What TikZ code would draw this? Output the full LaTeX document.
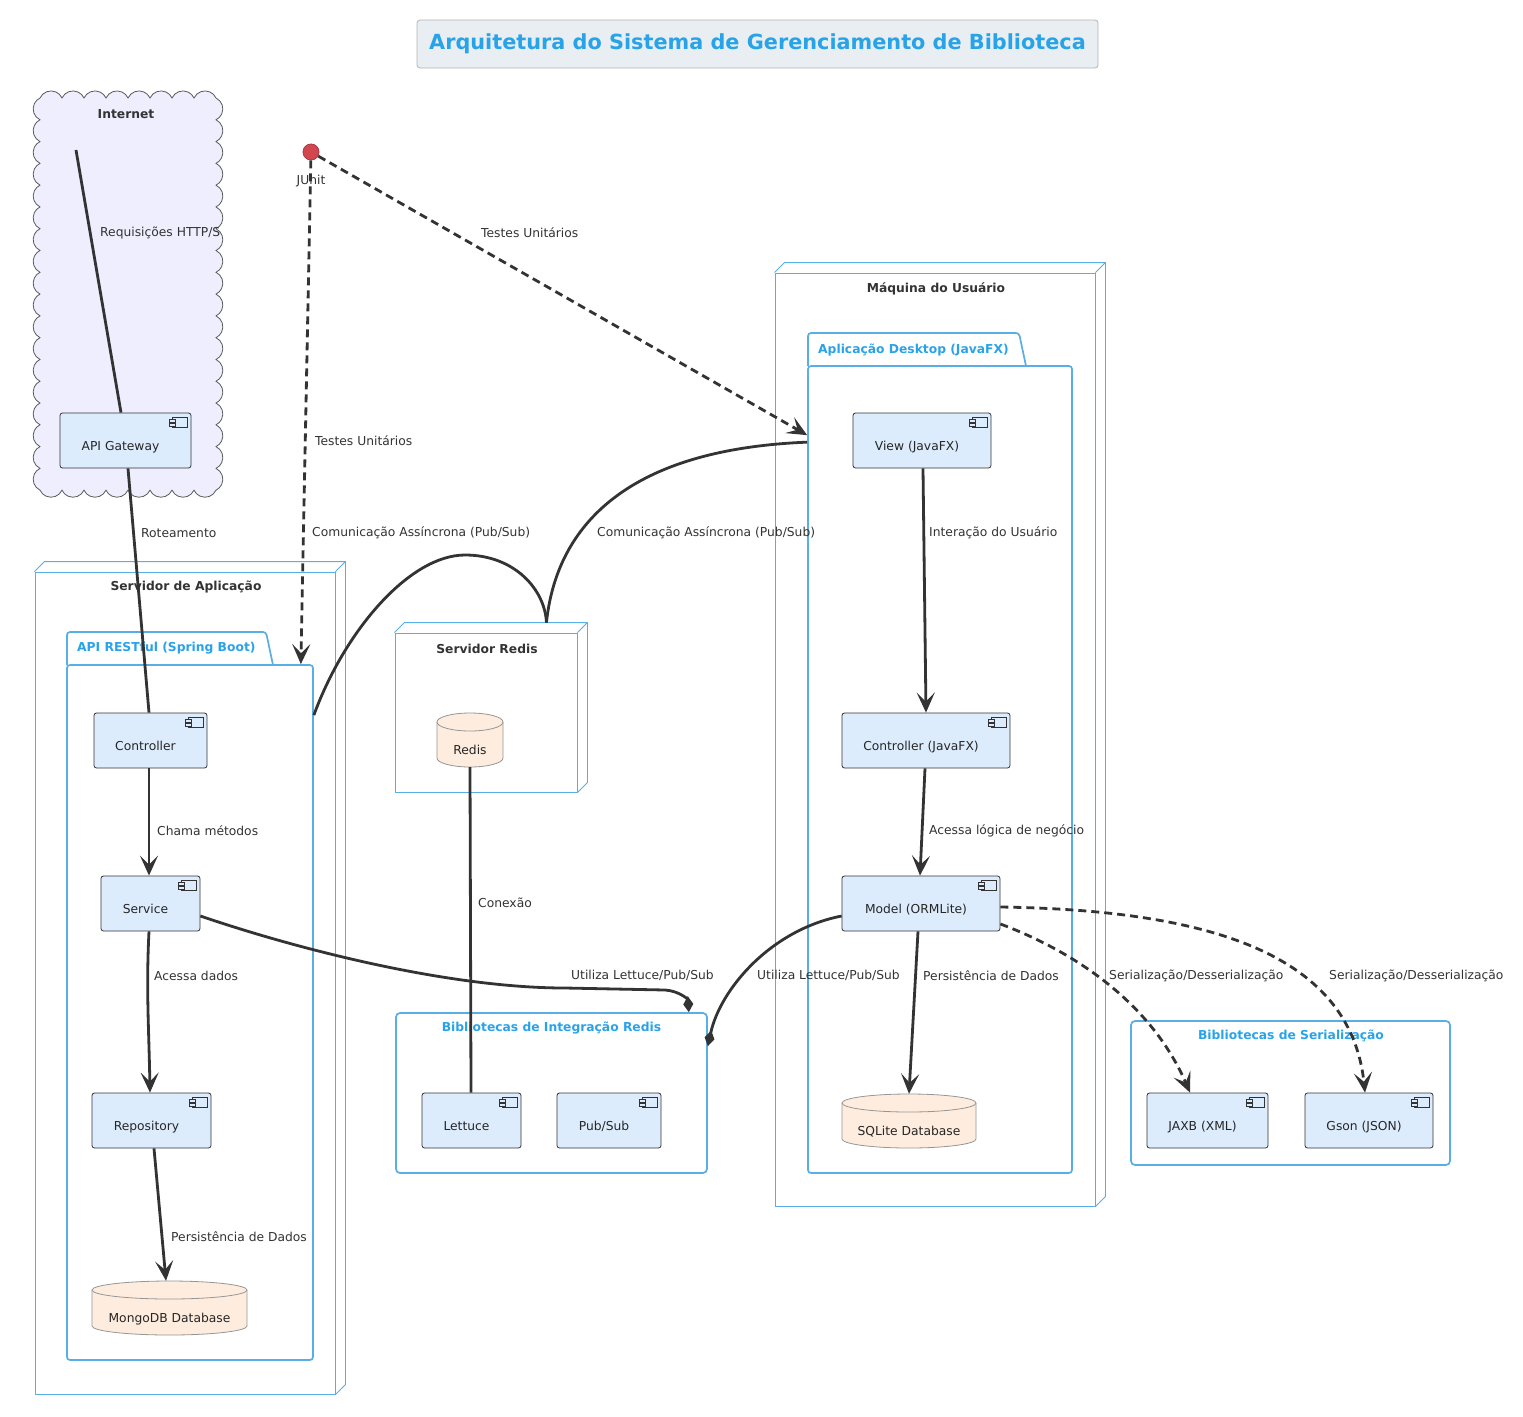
\documentclass[tikz,border=0pt]{standalone}
\usepackage{fontspec}
\setmainfont{DejaVu Sans}
\usetikzlibrary{arrows.meta,calc}
\definecolor{nblue}{RGB}{90,174,230}
\definecolor{tblue}{RGB}{41,163,232}
\definecolor{cfill}{RGB}{221,236,252}
\definecolor{dbfill}{RGB}{254,236,222}
\definecolor{dbline}{RGB}{150,150,150}
\definecolor{cloudfill}{RGB}{238,238,255}
\definecolor{cloudline}{RGB}{90,90,90}
\definecolor{titlefill}{RGB}{232,238,242}
\definecolor{titleline}{RGB}{180,180,180}
\definecolor{edgec}{RGB}{51,51,51}
\definecolor{txt}{RGB}{51,51,51}
\definecolor{junitred}{RGB}{210,70,80}
\newcommand\lblfont{\fontsize{12.3}{14}\selectfont}
\newcommand\cicon[1]{%
  \draw[edgec, line width=0.7pt, fill=cfill] ($(#1.north east)+(-19,5)$) rectangle ($(#1.north east)+(-4,15)$);
  \draw[edgec, line width=0.7pt, fill=cfill] ($(#1.north east)+(-22,7)$) rectangle ($(#1.north east)+(-16,9.5)$);
  \draw[edgec, line width=0.7pt, fill=cfill] ($(#1.north east)+(-22,11)$) rectangle ($(#1.north east)+(-16,13.5)$);}
\newcommand\comp[6]{%
  \node[comp, minimum width={#4-#2}, minimum height={#5-#3}] (#1) at ({(#2+#4)/2},{(#3+#5)/2}) {#6\hspace*{10pt}};
  \cicon{#1}}
\newcommand\dbn[6]{%
  \pgfmathsetmacro\rx{(#4-#2)/2}
  \filldraw[dbshape] (#2,#3+9) -- (#2,#5-9) arc[start angle=180,end angle=0,x radius=\rx,y radius=9] -- (#4,#3+9) arc[start angle=0,end angle=-180,x radius=\rx,y radius=9] -- cycle;
  \draw[dbshape] (#2,#3+9) arc[start angle=180,end angle=0,x radius=\rx,y radius=9];
  \node[dbtext, minimum width={#4-#2}, minimum height={#5-#3}] (#1) at ({(#2+#4)/2},{(#3+#5)/2}) {#6};}
\newcommand\nbox[5]{%
  \node[nodebox, minimum width={#4-#2}, minimum height={#5-#3}] (#1) at ({(#2+#4)/2},{(#3+#5)/2}) {};
  \draw[nodeline] (#1.north west) -- ++(10,-10) -- ($(#1.north east)+(10,-10)$) -- ($(#1.south east)+(10,-10)$) -- (#1.south east) (#1.north east) -- ++(10,-10);}
\newcommand\pkgbox[8]{%
  \node[pkgbody, minimum width={#4-#2}, minimum height={#5-#3}] (#1) at ({(#2+#4)/2},{(#3+#5)/2}) {};
  \draw[pkgline, rounded corners=3pt] (#2,#3) -- (#2,#6) -- (#7-7,#6) -- (#7,#3);
  \node[ptitle, anchor=west] (#1-t) at (#2+10,{(#3+#6)/2}) {#8};}
\begin{document}
\begin{tikzpicture}[x=1pt,y=-1pt,
  lbl/.style={font=\lblfont, text=txt, anchor=west, inner sep=0pt},
  btitle/.style={font=\lblfont\bfseries, text=txt, inner sep=0pt},
  ptitle/.style={font=\lblfont\bfseries, text=tblue, inner sep=0pt},
  comp/.style={draw=edgec, fill=cfill, rounded corners=2.5pt, line width=0.8pt, font=\lblfont, text=black!85, text height=20pt, text depth=1pt, inner sep=0pt},
  dbshape/.style={draw=dbline, fill=dbfill, line width=0.8pt},
  dbtext/.style={inner sep=0pt, font=\lblfont, text=black!85, text height=30pt, text depth=1pt},
  nodebox/.style={draw=nblue, line width=0.9pt, inner sep=0pt},
  nodeline/.style={draw=nblue, line width=0.9pt},
  pkgbody/.style={draw=nblue, line width=1.7pt, rounded corners=3pt, inner sep=0pt},
  pkgline/.style={draw=nblue, line width=1.7pt},
  conn/.style={draw=edgec, line width=2.8pt},
  arr/.style={-{Stealth[length=20pt,width=18pt,inset=9pt]}},
  dsh/.style={dash pattern=on 8pt off 5pt},
  diam/.style={-{Diamond[length=16pt,width=10pt]}}]
\useasboundingbox (0,0) rectangle (1523,1416);
\fill[white] (0,0) rectangle (1523,1416);

% title
\node[draw=titleline, fill=titlefill, rounded corners=3pt, line width=0.8pt, minimum width=681, minimum height=48, inner sep=0pt, font=\fontsize{20.8}{24}\selectfont\bfseries, text=tblue] (title) at (757.5,44) {Arquitetura do Sistema de Gerenciamento de Biblioteca};

% cloud
\filldraw[draw=cloudline, fill=cloudfill, line width=0.8pt] (40,98)
  \foreach \i in {1,...,8} { arc[start angle=204.6, end angle=335.4, radius=12.1] }
  \foreach \i in {1,...,18} { arc[start angle=-64.2, end angle=64.2, radius=12.1] }
  \foreach \i in {1,...,8} { arc[start angle=24.6, end angle=155.4, radius=12.1] }
  \foreach \i in {1,...,18} { arc[start angle=115.8, end angle=244.2, radius=12.1] } -- cycle;
\node[btitle] (inettitle) at (126,114) {Internet};
\coordinate (inet) at (76,150);

% nodes (3D boxes)
\nbox{srvapp}{35}{572}{335}{1394}
\node[btitle] (srvapp-t) at (186,587) {Servidor de Aplicação};
\nbox{redisSrv}{395}{633}{577}{792}
\node[btitle] (redisSrv-t) at (487,649) {Servidor Redis};
\nbox{maq}{775}{273}{1095}{1206}
\node[btitle] (maq-t) at (936,289) {Máquina do Usuário};

% packages
\pkgbox{apipkg}{67}{665}{313}{1360}{632}{273}{API RESTful (Spring Boot)}
\pkgbox{deskpkg}{808}{366}{1072}{1173}{333}{1026}{Aplicação Desktop (JavaFX)}
\node[pkgbody, rounded corners=4pt, minimum width=311, minimum height=160] (bibR) at (551.5,1093) {};
\node[ptitle] (bibR-t) at (551.5,1028) {Bibliotecas de Integração Redis};
\node[pkgbody, rounded corners=4pt, minimum width=319, minimum height=144] (bibS) at (1290.5,1093) {};
\node[ptitle] (bibS-t) at (1291,1036) {Bibliotecas de Serialização};

% components
\comp{gw}{60}{413}{191}{468}{API Gateway}
\comp{ctrl}{94}{713}{207}{768}{Controller}
\comp{svc}{101}{876}{200}{931}{Service}
\comp{repo}{92}{1093}{211}{1148}{Repository}
\comp{lett}{422}{1093}{521}{1148}{Lettuce}
\comp{pubsub}{557}{1093}{661}{1148}{Pub/Sub}
\comp{view}{853}{413}{991}{468}{View (JavaFX)}
\comp{ctrlfx}{842}{713}{1010}{768}{Controller (JavaFX)}
\comp{model}{842}{876}{1000}{931}{Model (ORMLite)}
\comp{jaxb}{1147}{1093}{1268}{1148}{JAXB (XML)}
\comp{gson}{1305}{1093}{1433}{1148}{Gson (JSON)}

% databases
\dbn{mongo}{92}{1281}{247}{1335}{MongoDB Database}
\dbn{redis}{437}{713}{503}{767}{Redis}
\dbn{sqlite}{842}{1094}{976}{1148}{SQLite Database}

% JUnit
\node[circle, draw=junitred!80!black, fill=junitred, line width=0.8pt, minimum size=16pt, inner sep=0pt] (junit) at (311,152) {};
\node[font=\lblfont, text=txt, inner sep=0pt] (junit-t) at (311,181) {JUnit};

% connectors
\draw[conn] (inet) -- ($(gw.north)+(-4.5,0)$);
\node[lbl] (l1) at (100,233) {Requisições HTTP/S};

\draw[conn] ($(gw.south)+(2.5,0)$) -- ($(ctrl.north)+(-1.5,0)$);
\node[lbl] (l2) at (141,533) {Roteamento};

\draw[conn, dsh, arr] (junit) -- ($(apipkg.north east)+(-13,0)$);
\node[lbl] (l3) at (315,441) {Testes Unitários};

\draw[conn, dsh, arr] (junit) -- ($(deskpkg.north west)+(0,70)$);
\node[lbl] (l4) at (481,233) {Testes Unitários};

\draw[conn] ($(apipkg.north east)+(0,51)$) .. controls (345,630) and (410,555) .. (465,555) .. controls (515,555) and (545,590) .. ($(redisSrv.north east)+(-31,-10)$);
\node[lbl] (l5) at (312,533) {Comunicação Assíncrona (Pub/Sub)};

\draw[conn] ($(redisSrv.north east)+(-31,-10)$) .. controls (555,540) and (610,450) .. ($(deskpkg.north west)+(0,77)$);
\node[lbl] (l6) at (597,533) {Comunicação Assíncrona (Pub/Sub)};

\draw[conn, arr] ($(ctrl.south)+(-1.5,0)$) -- ($(svc.north)+(-1.5,0)$);
\node[lbl] (l7) at (157,831) {Chama métodos};

\draw[conn, arr] ($(svc.south)+(-1.5,0)$) .. controls (146,990) and (149,1030) .. ($(repo.north)+(-1.5,0)$);
\node[lbl] (l8) at (154,976) {Acessa dados};

\draw[conn, arr] ($(repo.south)+(2.5,0)$) -- ($(mongo.north)+(-3.5,0)$);
\node[lbl] (l9) at (171,1237) {Persistência de Dados};

\draw[conn] (redis.south) -- ($(lett.north)+(-0.5,0)$);
\node[lbl] (l10) at (478,903) {Conexão};

\draw[conn, diam] ($(svc.east)+(0,12.5)$) .. controls (300,950) and (450,988) .. (565,988) -- (665,990) .. controls (680,991) and (688,1000) .. ($(bibR.north east)+(-19,0)$);
\node[lbl] (l11) at (571,975) {Utiliza Lettuce/Pub/Sub};

\draw[conn, diam] ($(model.west)+(0,12.5)$) .. controls (770,930) and (720,990) .. ($(bibR.north east)+(0,34)$);
\node[lbl] (l12) at (757,975) {Utiliza Lettuce/Pub/Sub};

\draw[conn, arr] ($(view.south)+(1,0)$) -- ($(ctrlfx.north)+(0,0)$);
\node[lbl] (l13) at (929,533) {Interação do Usuário};

\draw[conn, arr] ($(ctrlfx.south)+(-1,0)$) -- ($(model.north)+(-1,0)$);
\node[lbl] (l14) at (929,831) {Acessa lógica de negócio};

\draw[conn, arr] ($(model.south)+(-3,0)$) -- (sqlite.north);
\node[lbl] (l15) at (923,976) {Persistência de Dados};

\draw[conn, dsh, arr] ($(model.east)+(0,20.5)$) .. controls (1070,950) and (1150,1000) .. ($(jaxb.north)+(-17.5,0)$);
\node[lbl] (l16) at (1109,976) {Serialização/Desserialização};

\draw[conn, dsh, arr] ($(model.east)+(0,3.5)$) .. controls (1200,910) and (1350,950) .. ($(gson.north)+(-4,0)$);
\node[lbl] (l17) at (1329,976) {Serialização/Desserialização};
\end{tikzpicture}
\end{document}
